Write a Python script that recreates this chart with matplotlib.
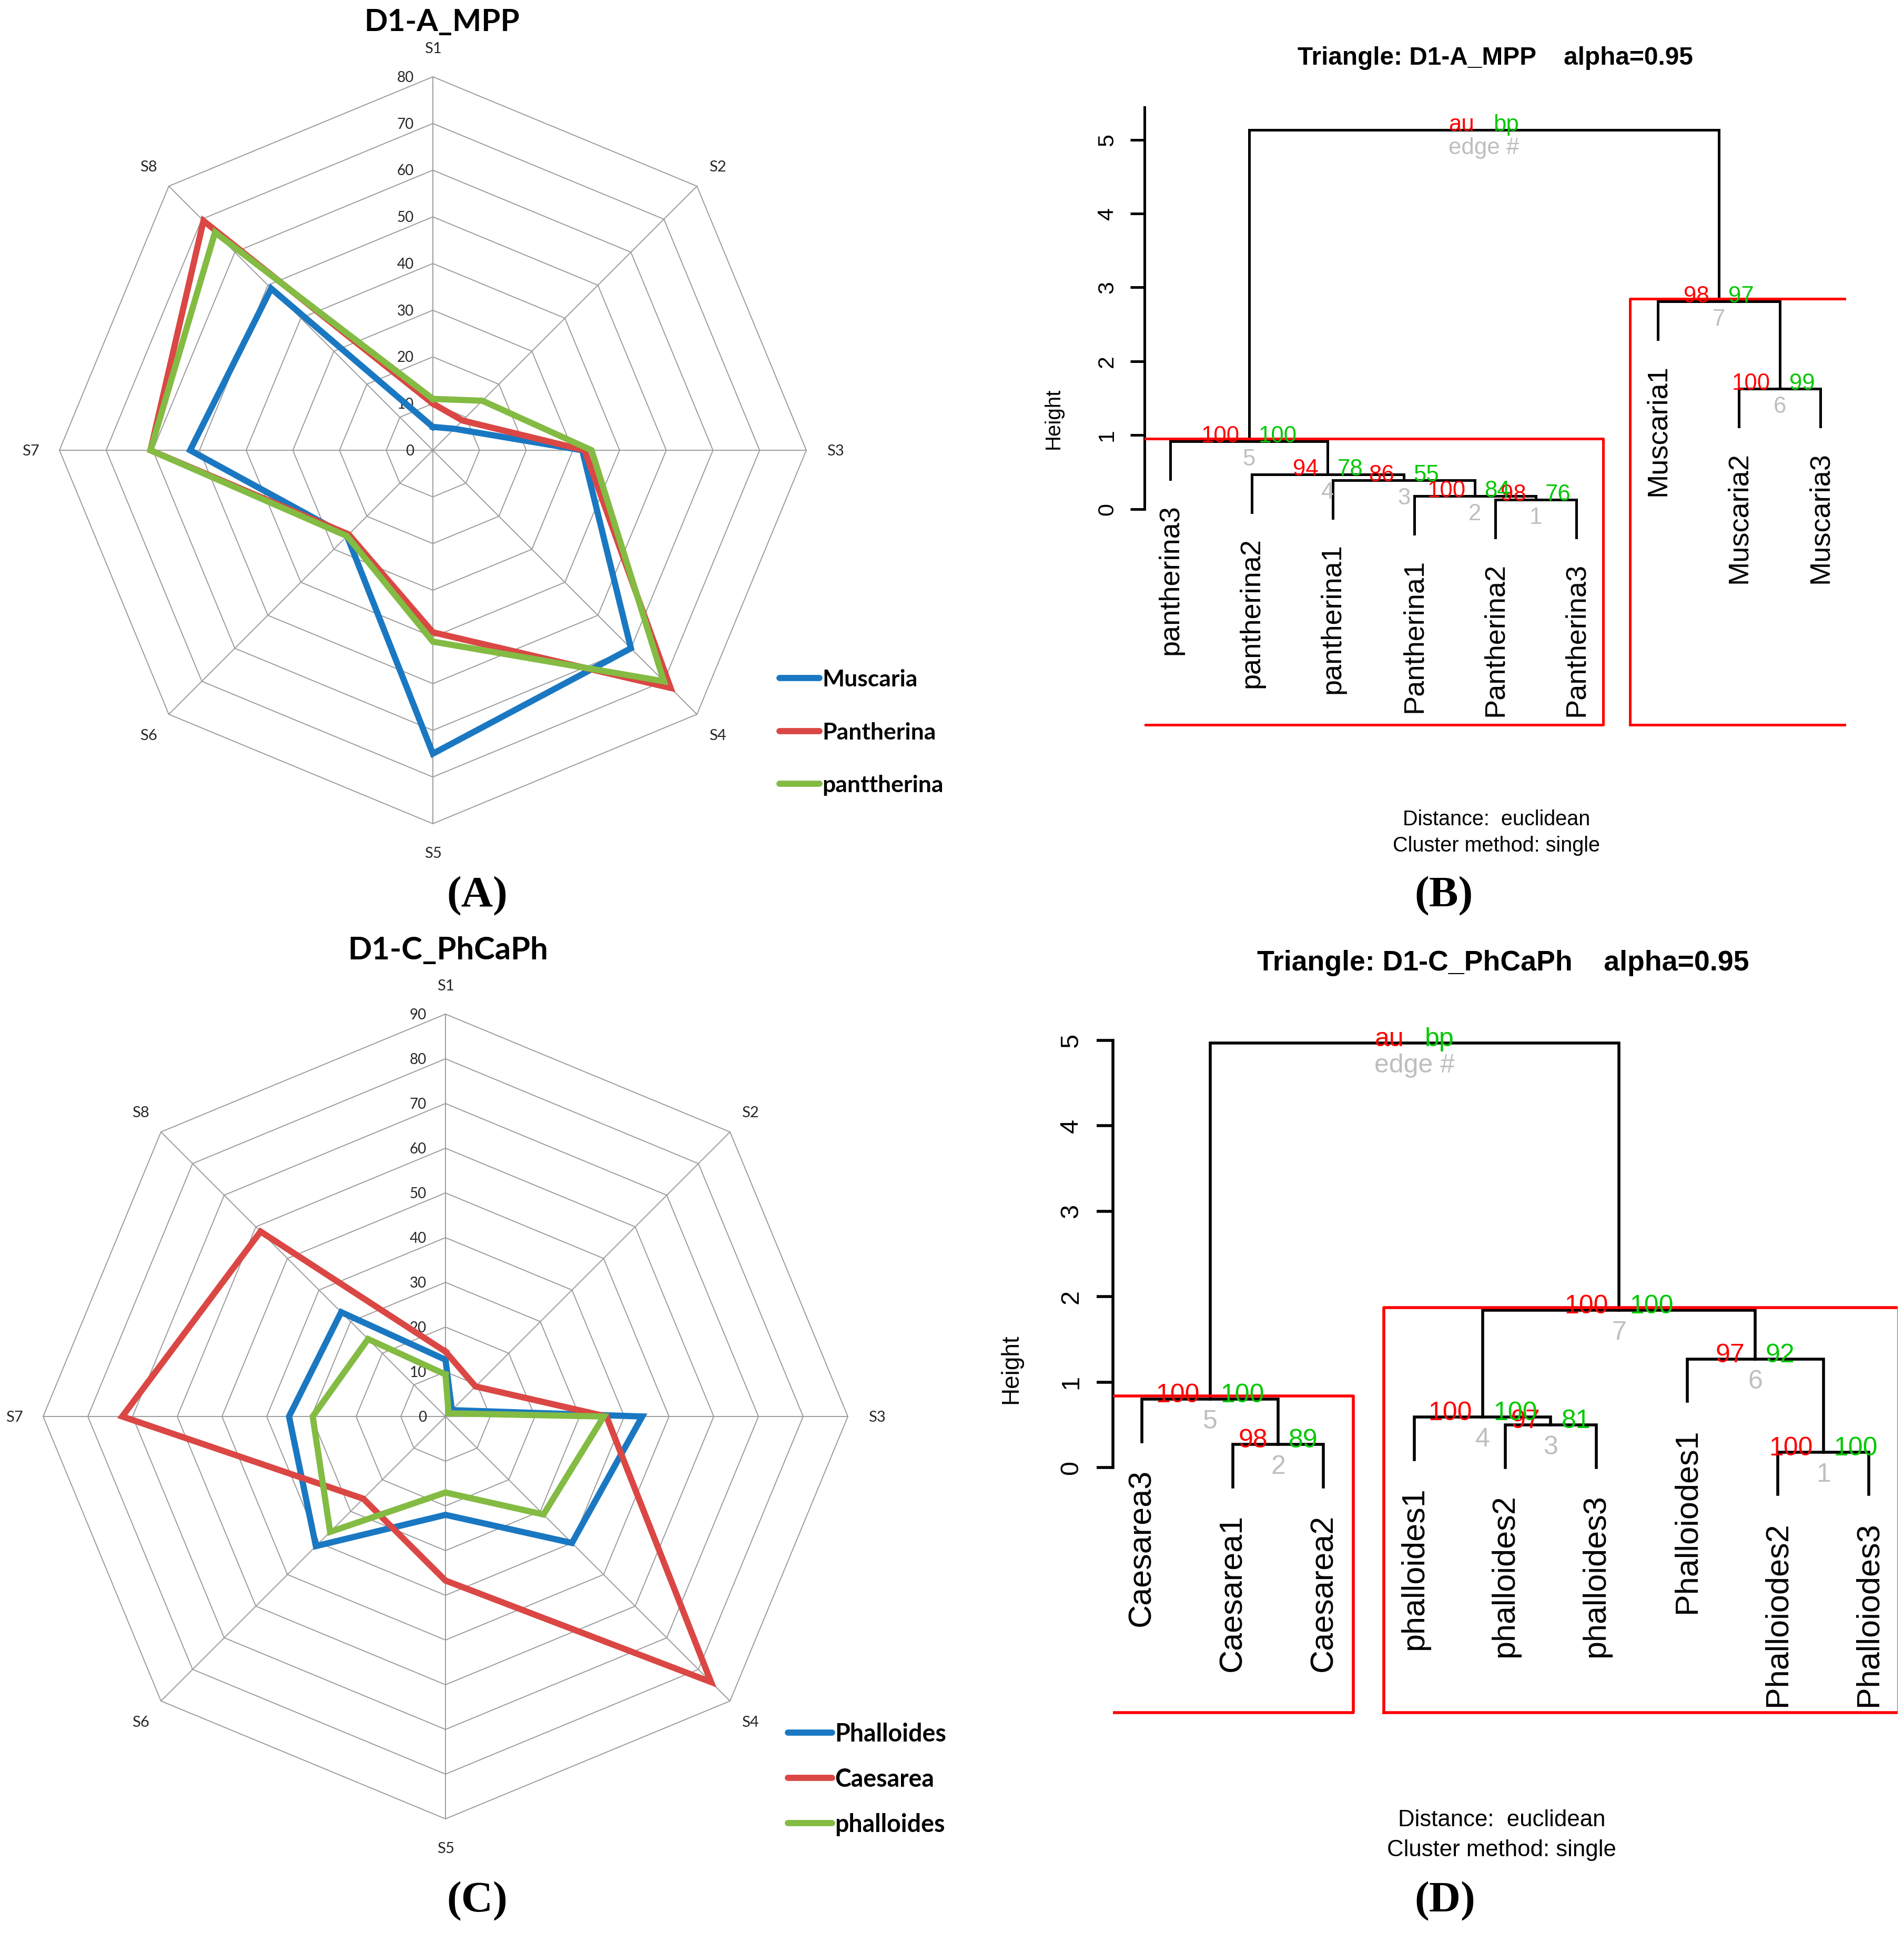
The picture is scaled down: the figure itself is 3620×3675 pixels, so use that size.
import numpy as np
import matplotlib.pyplot as plt
from matplotlib.lines import Line2D

W, H = 3620, 3675
DPI = 100

# ---------------- radar data ----------------
spokes = ['S1', 'S2', 'S3', 'S4', 'S5', 'S6', 'S7', 'S8']
series_colors = ['#1a78c2', '#da4744', '#83bb43']

a_title = 'D1-A_MPP'
a_names = ['Muscaria', 'Pantherina', 'panttherina']
a_muscaria = [5, 6.5, 32, 60, 65, 26, 52, 49]
a_pantherina = [10, 9, 32.5, 72, 39, 25.5, 60.5, 69.5]
a_panttherina = [11, 15, 34, 70, 41, 26, 60.5, 66]
a_max = 80

c_title = 'D1-C_PhCaPh'
c_names = ['Phalloides', 'Caesarea', 'phalloides']
c_phalloides_up = [12.7, 2, 44, 40, 22, 41, 35, 33]
c_caesarea = [14.5, 9.5, 36, 84, 36.7, 26, 72.3, 58.5]
c_phalloides_low = [9.4, 1, 35.4, 31, 17, 36.5, 29.7, 24.5]
c_max = 90

# ---------------- dendrogram data ----------------
b_title = 'Triangle: D1-A_MPP    alpha=0.95'
b_leaves = ['pantherina3', 'pantherina2', 'pantherina1', 'Pantherina1', 'Pantherina2',
            'Pantherina3', 'Muscaria1', 'Muscaria2', 'Muscaria3']
b_merge = [(-5, -6), (-4, 1), (-3, 2), (-2, 3), (-1, 4), (-8, -9), (-7, 6), (5, 7)]
b_height = [0.127, 0.175, 0.39, 0.47, 0.914, 1.63, 2.81, 5.13]
b_au = [98, 100, 86, 94, 100, 100, 98]
b_bp = [76, 84, 55, 78, 100, 99, 97]
b_rects = [5, 7]

d_title = 'Triangle: D1-C_PhCaPh    alpha=0.95'
d_leaves = ['Caesarea3', 'Caesarea1', 'Caesarea2', 'phalloides1', 'phalloides2',
            'phalloides3', 'Phalloiodes1', 'Phalloiodes2', 'Phalloiodes3']
d_merge = [(-8, -9), (-2, -3), (-5, -6), (-4, 3), (-1, 2), (-7, 1), (4, 6), (5, 7)]
d_height = [0.18, 0.27, 0.50, 0.59, 0.80, 1.27, 1.84, 4.97]
d_au = [100, 98, 97, 100, 100, 97, 100]
d_bp = [100, 89, 81, 100, 100, 92, 100]
d_rects = [5, 7]

fig = plt.figure(figsize=(W / DPI, H / DPI), dpi=DPI)


def fx(x):
    return x / W


def fy(y):
    return 1 - y / H


def axes_px(left, top, right, bottom):
    return fig.add_axes([left / W, 1 - bottom / H, (right - left) / W, (bottom - top) / H])


def radar(cx, cy, unit, lim, vmax, series, names, title, title_xy, title_size,
          leg_x0, leg_x1, leg_ys, leg_size):
    half = lim * unit
    ax = axes_px(cx - half, cy - half, cx + half, cy + half)
    ax.set_xlim(-lim, lim)
    ax.set_ylim(-lim, lim)
    ax.axis('off')
    ang = np.deg2rad(90 - 45 * np.arange(8))
    c, s = np.cos(ang), np.sin(ang)
    grid = '#9c9c9c'
    for r in range(10, vmax + 1, 10):
        ax.plot(np.append(r * c, r * c[0]), np.append(r * s, r * s[0]),
                color=grid, lw=1.4, zorder=1)
    for i in range(8):
        ax.plot([0, vmax * c[i]], [0, vmax * s[i]], color=grid, lw=1.4, zorder=1)
    # ring values
    em = 20 * DPI / 72
    for r in range(0, vmax + 1, 10):
        ax.annotate(str(r), xy=(0, r), xytext=(-36, -0.358 * em), textcoords='offset pixels',
                    ha='right', va='baseline', fontsize=20, family='Lato', color='#262626')
    em = 21 * DPI / 72
    rl = vmax + 55 / unit
    for i, lab in enumerate(spokes):
        ax.annotate(lab, xy=(rl * c[i], rl * s[i]), xytext=(0, -0.358 * em),
                    textcoords='offset pixels', ha='center', va='baseline',
                    fontsize=21, family='Lato', color='#262626')
    for vals, col in zip(series, series_colors):
        v = np.array(vals)
        ax.plot(np.append(v * c, v[0] * c[0]), np.append(v * s, v[0] * s[0]),
                color=col, lw=8.5, solid_joinstyle='miter', zorder=3)
    fig.text(fx(title_xy[0]), fy(title_xy[1]), title, ha='center', va='baseline',
             fontsize=title_size, fontweight='bold', family='Lato')
    em = leg_size * DPI / 72
    for name, col, ly in zip(names, series_colors, leg_ys):
        fig.add_artist(Line2D([fx(leg_x0), fx(leg_x1)], [fy(ly), fy(ly)], color=col,
                              lw=8.5, solid_capstyle='round', transform=fig.transFigure))
        fig.text(fx(leg_x1 + 5), fy(ly + 0.358 * em), name, ha='left', va='baseline',
                 fontsize=leg_size, fontweight='bold', family='Lato')


def dendro(box, ylim, leaves, merge, height, au, bp, rects, title, title_xy,
           sizes, lw, offs, gap, axis_top, tick_len, tick_pad, ylab_xy, sub_xy):
    left, right, top, bottom = box
    ax = axes_px(left, top, right, bottom)
    n = len(leaves)
    ax.set_xlim(0.68, n + 0.32)
    ax.set_ylim(*ylim)
    for sp in ['top', 'right', 'bottom']:
        ax.spines[sp].set_visible(False)
    ax.spines['left'].set_bounds(0, axis_top)
    ax.spines['left'].set_linewidth(lw)
    ax.set_xticks([])
    ax.set_yticks(range(6))
    ax.set_yticklabels([str(t) for t in range(6)], rotation=90, va='center', ha='right',
                       fontsize=sizes['tick'], family='Liberation Sans')
    ax.tick_params(axis='y', length=tick_len, width=lw, pad=tick_pad)

    hang = 0.1 * max(height)
    xs, members = [], []

    def get(i, h):
        if i < 0:
            return -i, h - hang, [-i]
        return xs[i - 1], height[i - 1], members[i - 1]

    for k, (a, b) in enumerate(merge):
        h = height[k]
        xa, ya, ma = get(a, h)
        xb, yb, mb = get(b, h)
        ax.plot([xa, xa, xb, xb], [ya, h, h, yb], color='black', lw=lw,
                solid_joinstyle='miter', zorder=3)
        xs.append((xa + xb) / 2)
        members.append(ma + mb)
        if a < 0:
            ax.annotate(leaves[-a - 1], xy=(xa, ya), xytext=(0, -gap), textcoords='offset pixels',
                        rotation=90, ha='center', va='top', fontsize=sizes['leaf'],
                        family='Liberation Sans')
        if b < 0:
            ax.annotate(leaves[-b - 1], xy=(xb, yb), xytext=(0, -gap), textcoords='offset pixels',
                        rotation=90, ha='center', va='top', fontsize=sizes['leaf'],
                        family='Liberation Sans')

    dx, dy, de = offs
    fs = sizes['num']
    for k in range(len(merge)):
        x, h = xs[k], height[k]
        if k < len(au):
            t_au, t_bp, t_e = str(au[k]), str(bp[k]), str(k + 1)
        else:
            t_au, t_bp, t_e = 'au', 'bp', 'edge #'
        ax.annotate(t_au, xy=(x, h), xytext=(-dx, -dy), textcoords='offset pixels',
                    ha='right', va='baseline', color='#ff0000', fontsize=fs,
                    family='Liberation Sans', zorder=5)
        ax.annotate(t_bp, xy=(x, h), xytext=(dx, -dy), textcoords='offset pixels',
                    ha='left', va='baseline', color='#00c800', fontsize=fs,
                    family='Liberation Sans', zorder=5)
        ax.annotate(t_e, xy=(x, h), xytext=(0, -de), textcoords='offset pixels',
                    ha='center', va='top', color='#bebebe', fontsize=fs,
                    family='Liberation Sans', zorder=5)

    bot = ylim[0] + 0.03
    for e in rects:
        m = members[e - 1]
        x0, x1 = min(m) - 0.34, max(m) + 0.33
        top_r = height[e - 1] + 0.035
        ax.plot([x0, x0, x1, x1, x0], [bot, top_r, top_r, bot, bot], color='#ff0000',
                lw=lw, zorder=4)

    fig.text(fx(title_xy[0]), fy(title_xy[1]), title, ha='center', va='baseline',
             fontsize=sizes['title'], fontweight='bold', family='Liberation Sans')
    fig.text(fx(ylab_xy[0]), fy(ylab_xy[1]), 'Height', rotation=90, ha='center', va='center',
             fontsize=sizes['ylab'], family='Liberation Sans')
    fig.text(fx(sub_xy[0]), fy(sub_xy[1]), 'Distance:  euclidean', ha='center', va='center',
             fontsize=sizes['sub'], family='Liberation Sans')
    fig.text(fx(sub_xy[0]), fy(sub_xy[2]), 'Cluster method: single', ha='center', va='center',
             fontsize=sizes['sub'], family='Liberation Sans')


# panel A
radar(823, 856, 8.875, 90, a_max, [a_muscaria, a_pantherina, a_panttherina], a_names,
      a_title, (840, 59), 42, 1482, 1558, [1289, 1390, 1490], 32)
# panel C
radar(847, 2693, 8.5, 99, c_max, [c_phalloides_up, c_caesarea, c_phalloides_low], c_names,
      c_title, (852, 1824), 43, 1498, 1582, [3294, 3380, 3466], 33.5)

# panel B: x 0.68 -> 2175.6 px, 9.32 -> 3510.4 px ; y 0 -> 967.6 px, unit 140.4
dendro((2175.6, 3510.4, 967.6 - 5.6 * 140.4, 967.6 + 2.95 * 140.4), (-2.95, 5.6),
       b_leaves, b_merge, b_height, b_au, b_bp, b_rects, b_title, (2843, 123),
       dict(title=34.4, leaf=39, num=31.5, tick=31, ylab=29, sub=28.5), 3.6,
       (18, 2, 14), 48, 5.44, 19.4, 17, (2003, 796), (2845, 1558, 1608))

# panel D: x 0.68 -> 2115.7 px, 9.32 -> 3608.3 px ; y 0 -> 2790 px, unit 162.4
dendro((2115.7, 3608.3, 2790 - 5.6 * 162.4, 2790 + 2.9 * 162.4), (-2.9, 5.6),
       d_leaves, d_merge, d_height, d_au, d_bp, d_rects, d_title, (2858, 1845),
       dict(title=38.6, leaf=44, num=36, tick=35, ylab=33, sub=31.5), 4.0,
       (20, 6, 20), 52, 5.0, 22.3, 18.4, (1922, 2603), (2855, 3460, 3518))

# panel labels
for lab, x, y in [('(A)', 907, 1704), ('(B)', 2745, 1704), ('(C)', 907, 3615), ('(D)', 2747, 3615)]:
    fig.text(fx(x), fy(y), lab, ha='center', va='center', fontsize=60, fontweight='bold',
             family='Liberation Serif')

fig.savefig('out.png', dpi=DPI, facecolor='white')
